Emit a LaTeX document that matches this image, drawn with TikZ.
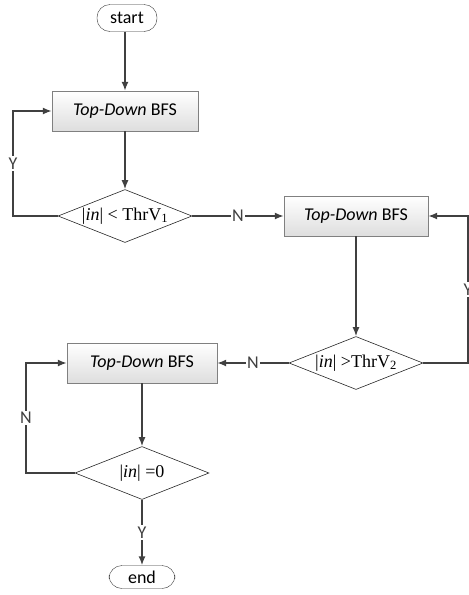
\documentclass[tikz,border=0pt]{standalone}
\usepackage{fontspec}
\setmainfont{Carlito}
\newfontfamily\TimesFont{Liberation Serif}
\usepackage{tikz}
\usetikzlibrary{arrows.meta}
\usetikzlibrary{shapes.geometric}
\usetikzlibrary{math}

\newcommand{\InSet}{|\textit{in}|}

\begin{document}
\begin{tikzpicture}[x=1pt, y=-1pt,
    font=\fontsize{18}{21}\selectfont,
    terminal/.style={draw=black!80, rounded corners=13pt, minimum width=60pt,
        minimum height=27pt, inner sep=0pt},
    process/.style={draw=black!50, top color=white, bottom color=black!13,
        minimum width=146pt, minimum height=40pt, inner sep=0pt},
    decision/.style={diamond, draw=black!85, line width=0.6pt, aspect=2.6,
        minimum width=134pt, minimum height=53pt, inner sep=0pt,
        font=\TimesFont\fontsize{18}{21}\selectfont},
    flow/.style={black!75, line width=1.5pt, -{Latex[length=9pt,width=7pt]}},
    answer/.style={fill=white, inner sep=1.5pt},
]

\useasboundingbox (0,0) rectangle (469,595);

% Position settings
\tikzmath{
    \UpperX = 125;
    \RightX = 356;
    \LowerX = 142;
    \RowA = 111;
    \RowB = 216;
    \RowC = 363;
    \RowD = 473;
}

\coordinate (LoopA) at (13, 0);
\coordinate (LoopB) at (468, 0);
\coordinate (LoopC) at (26, 0);

% Nodes
\node [terminal] (Start) at (127, 18) {start};
\node [process] (TD1) at (\UpperX, \RowA) {\textit{Top-Down} BFS};
\node [decision] (Cond1) at (\UpperX, \RowB) {\InSet{} < ThrV\textsubscript{1}};
\node [process, minimum width=144pt] (TD2) at (\RightX, \RowB) {\textit{Top-Down} BFS};
\node [decision] (Cond2) at (\RightX, \RowC) {\InSet{} >ThrV\textsubscript{2}};
\node [process, minimum width=150pt] (TD3) at (\LowerX, \RowC) {\textit{Top-Down} BFS};
\node [decision] (Cond3) at (\LowerX, \RowD) {\InSet{} =0};
\node [terminal, minimum width=66pt, minimum height=23pt] (End) at (\LowerX, 577) {end};

% Upper part
\draw [flow] (TD1.north |- Start.south) -- (TD1.north);
\draw [flow] (TD1) -- (Cond1);
\draw [flow] (Cond1.west) -- (Cond1.west -| LoopA)
    |- node [answer, pos=0.25] {Y} (TD1.west);
\draw [flow] (Cond1.east) -- node [answer] {N} (TD2.west);

% Right part
\draw [flow] (TD2) -- (Cond2);
\draw [flow] (Cond2.east) -- (Cond2.east -| LoopB)
    |- node [answer, pos=0.25] {Y} (TD2.east);
\draw [flow] (Cond2.west) -- node [answer] {N} (TD3.east);

% Lower part
\draw [flow] (TD3) -- (Cond3);
\draw [flow] (Cond3.west) -- (Cond3.west -| LoopC)
    |- node [answer, pos=0.25] {N} (TD3.west);
\draw [flow] (Cond3) -- node [answer] {Y} (End);

\end{tikzpicture}
\end{document}
